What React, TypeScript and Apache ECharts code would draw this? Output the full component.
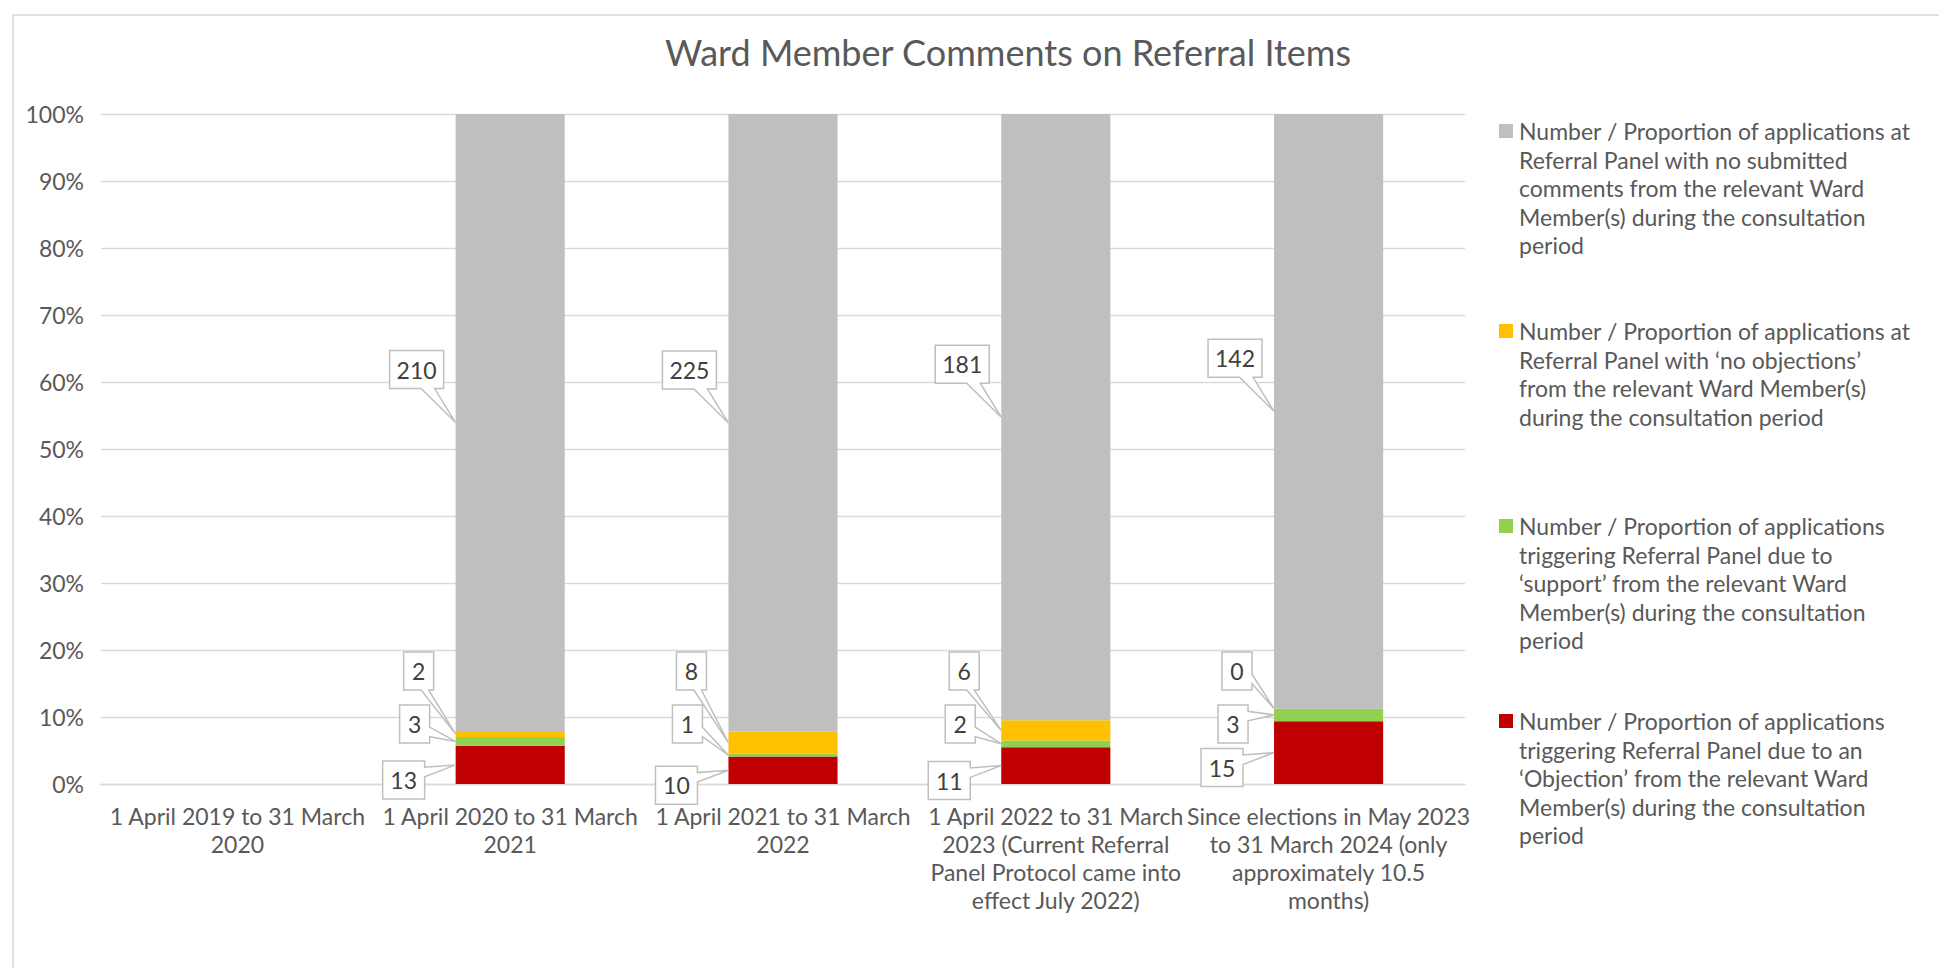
import React, { useEffect, useRef } from 'react';
import * as echarts from 'echarts';

const categories = [
  '1 April 2019 to 31 March\n2020',
  '1 April 2020 to 31 March\n2021',
  '1 April 2021 to 31 March\n2022',
  '1 April 2022 to 31 March\n2023 (Current Referral\nPanel Protocol came into\neffect July 2022)',
  'Since elections in May 2023\nto 31 March 2024 (only\napproximately 10.5\nmonths)',
];

// stack order: bottom -> top
const objection: (number | null)[] = [null, 13, 10, 11, 15];
const support: (number | null)[] = [null, 3, 1, 2, 3];
const noObjections: (number | null)[] = [null, 2, 8, 6, 0];
const noComments: (number | null)[] = [null, 210, 225, 181, 142];

const seriesNames = [
  'Number / Proportion of applications\ntriggering Referral Panel due to an\n\u2018Objection\u2019 from the relevant Ward\nMember(s) during the consultation\nperiod',
  'Number / Proportion of applications\ntriggering Referral Panel due to\n\u2018support\u2019 from the relevant Ward\nMember(s) during the consultation\nperiod',
  'Number / Proportion of applications at\nReferral Panel with \u2018no objections\u2019\nfrom the relevant Ward Member(s)\nduring the consultation period',
  'Number / Proportion of applications at\nReferral Panel with no submitted\ncomments from the relevant Ward\nMember(s) during the consultation\nperiod',
];

const colors = ['#C00000', '#92D050', '#FFC000', '#BFBFBF'];
const yTickValues = [0, 10, 20, 30, 40, 50, 60, 70, 80, 90, 100];

const FONT = 'Lato, "Noto Sans", sans-serif';
const TEXT = '#595959';

export default function App() {
  const ref = useRef<HTMLDivElement>(null);
  useEffect(() => {
    const chart = echarts.init(ref.current!, null, { renderer: 'svg' });
    const raw = [objection, support, noObjections, noComments];
    const totals = categories.map((_, i) =>
      raw.every((r) => r[i] == null) ? null : raw.reduce((s, r) => s + (r[i] ?? 0), 0)
    );
    const pct = raw.map((r) =>
      r.map((v, i) => (v == null || !totals[i] ? null : (v / (totals[i] as number)) * 100))
    );
    const calloutData: number[][] = [];
    raw.forEach((r, s) =>
      r.forEach((v, i) => {
        if (v == null) return;
        let low = 0;
        for (let k = 0; k < s; k++) low += pct[k][i] as number;
        calloutData.push([i, low, low + (pct[s][i] as number), v, s]);
      })
    );

    const LH = 28.5;
    const legendFirstLineY = [721, 526, 331, 131];
    const legendGraphics: any[] = [];
    seriesNames.forEach((name, s) => {
      const y = legendFirstLineY[s];
      legendGraphics.push({
        type: 'rect',
        silent: true,
        shape: { x: 1499, y: y - 7, width: 14, height: 14 },
        style: { fill: colors[s] },
      });
      legendGraphics.push({
        type: 'text',
        silent: true,
        x: 1519,
        y: y - LH / 2,
        style: {
          text: name,
          fill: TEXT,
          fontFamily: FONT,
          fontSize: 23,
          lineHeight: LH,
          align: 'left',
          verticalAlign: 'top',
        },
      });
    });

    const option: any = {
      animation: false,
      backgroundColor: '#fff',
      textStyle: { fontFamily: FONT },
      graphic: [
        {
          type: 'rect',
          silent: true,
          shape: { x: 13, y: 15, width: 2100, height: 1100 },
          style: { fill: 'none', stroke: '#D9D9D9', lineWidth: 1.5 },
        },
        {
          type: 'text',
          x: 1008,
          y: 52,
          style: {
            text: 'Ward Member Comments on Referral Items',
            fill: TEXT,
            fontFamily: FONT,
            fontSize: 36,
            align: 'center',
            verticalAlign: 'middle',
          },
        },
        ...legendGraphics,
      ],
      grid: { left: 101, top: 114, right: 474, bottom: 184, containLabel: false },
      xAxis: {
        type: 'category',
        data: categories,
        axisLine: { show: true, lineStyle: { color: '#D9D9D9', width: 1.3 } },
        axisTick: { show: false },
        axisLabel: {
          interval: 0,
          color: TEXT,
          fontFamily: FONT,
          fontSize: 23,
          lineHeight: 28,
          margin: 18,
          align: 'center',
        },
      },
      yAxis: {
        type: 'value',
        min: yTickValues[0],
        max: yTickValues[yTickValues.length - 1],
        interval: yTickValues[1] - yTickValues[0],
        axisLine: { show: false },
        axisTick: { show: false },
        splitLine: { lineStyle: { color: '#D9D9D9', width: 1.3 } },
        axisLabel: {
          formatter: '{value}%',
          color: TEXT,
          fontFamily: FONT,
          fontSize: 23,
          margin: 17,
        },
      },
      series: [
        ...seriesNames.map((name, s) => ({
          name,
          type: 'bar',
          stack: 'total',
          barWidth: '40%',
          itemStyle: { color: colors[s] },
          data: pct[s],
        })),
        {
          type: 'custom',
          name: 'callouts',
          z: 10,
          data: calloutData,
          encode: { x: 0, y: 1 },
          renderItem: (params: any, api: any) => {
            const c = api.value(0);
            const low = api.value(1);
            const high = api.value(2);
            const v = api.value(3);
            const s = api.value(4);
            const mid = api.coord([c, (low + high) / 2]);
            const base = api.coord([c, 0]);
            const band = api.size([1, 0])[0];
            const left = mid[0] - band * 0.2;
            const tip = [left, mid[1]];
            let cx: number, cy: number;
            if (s === 3) {
              cx = left - 39;
              cy = mid[1] - 53;
            } else if (s === 2) {
              cx = left - 37;
              cy = base[1] - 113;
            } else if (s === 1) {
              cx = left - 41;
              cy = base[1] - 60;
            } else {
              cx = left - 52;
              cy = mid[1] + 15;
            }
            const txt = String(v);
            const w = txt.length * 12 + 18;
            const h = 38;
            const x0 = cx - w / 2, x1 = cx + w / 2, y0 = cy - h / 2, y1 = cy + h / 2;
            const dx = tip[0] - cx;
            const dy = tip[1] - cy;
            const dq = (dx * h) / w;
            const vertical = Math.abs(dy) > Math.abs(dq);
            const pts: number[][] = [[x0, y0]];
            const xa = x0 + (w * (dx > 0 ? 7 : 2)) / 12;
            const xb = x0 + (w * (dx > 0 ? 10 : 5)) / 12;
            const ya = y0 + (h * (dy > 0 ? 7 : 2)) / 12;
            const yb = y0 + (h * (dy > 0 ? 10 : 5)) / 12;
            if (vertical && dy < 0) pts.push([xa, y0], tip, [xb, y0]);
            pts.push([x1, y0]);
            if (!vertical && dx > 0) pts.push([x1, ya], tip, [x1, yb]);
            pts.push([x1, y1]);
            if (vertical && dy > 0) pts.push([xb, y1], tip, [xa, y1]);
            pts.push([x0, y1]);
            if (!vertical && dx < 0) pts.push([x0, yb], tip, [x0, ya]);
            return {
              type: 'group',
              children: [
                {
                  type: 'polygon',
                  shape: { points: pts },
                  style: { fill: '#fff', stroke: '#BFBFBF', lineWidth: 1.5 },
                },
                {
                  type: 'text',
                  x: cx,
                  y: cy,
                  style: {
                    text: txt,
                    fill: '#404040',
                    fontFamily: FONT,
                    fontSize: 23,
                    align: 'center',
                    verticalAlign: 'middle',
                  },
                },
              ],
            };
          },
        },
      ],
    };
    chart.setOption(option);
    return () => chart.dispose();
  }, []);
  return (
    <div
      ref={ref}
      style={{ position: 'fixed', left: 0, top: 0, width: 1939, height: 968, background: '#fff' }}
    />
  );
}
